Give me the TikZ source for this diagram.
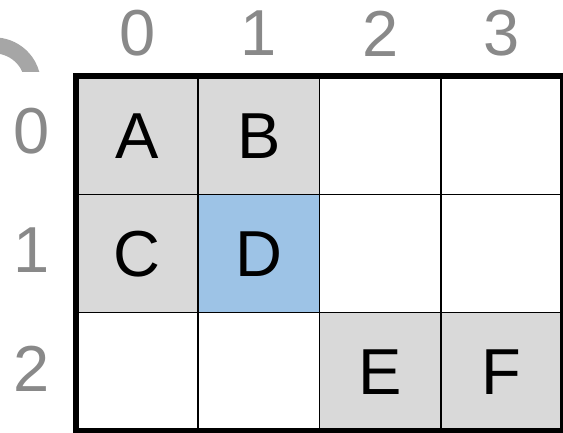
\documentclass[tikz,border=0pt]{standalone}
\usepackage{fontspec}
\setmainfont{Liberation Sans}
\definecolor{cellgray}{HTML}{D9D9D9}
\definecolor{cellblue}{HTML}{9DC3E6}
\definecolor{labelgray}{HTML}{898989}
\definecolor{arcgray}{HTML}{A6A6A6}

\begin{document}
\begin{tikzpicture}[x=1pt, y=-1pt,
    every node/.style={font=\fontsize{65}{78}\selectfont},
    cell/.style={draw=black, line width=1.5pt, minimum width=121.5pt, minimum height=118pt, inner sep=0pt},
    idx/.style={text=labelgray, inner sep=0pt}]
    % 画布范围
    \useasboundingbox (0,0) rectangle (563,433);
    \clip (0,0) rectangle (563,433);

    % 左上角的灰色弧线
    \begin{scope}
        \clip (0,0) rectangle (80,72);
        \draw[arcgray, line width=16pt] (-6,84.4) ++(-120:39) arc[start angle=-120, end angle=0, radius=39];
    \end{scope}

    % 第 0 行
    \node[cell, fill=cellgray] (A) at (137.4,135.7) {A};
    \node[cell, fill=cellgray] (B) at (258.9,135.7) {B};
    \node[cell] (c02) at (380.3,135.7) {};
    \node[cell] (c03) at (501.8,135.7) {};

    % 第 1 行
    \node[cell, fill=cellgray] (C) at (137.4,253.7) {C};
    \node[cell, fill=cellblue] (D) at (258.9,253.7) {D};
    \node[cell] (c12) at (380.3,253.7) {};
    \node[cell] (c13) at (501.8,253.7) {};

    % 第 2 行
    \node[cell] (c20) at (137.4,371.7) {};
    \node[cell] (c21) at (258.9,371.7) {};
    \node[cell, fill=cellgray] (E) at (380.3,371.7) {E};
    \node[cell, fill=cellgray] (F) at (501.8,371.7) {F};

    % 粗外框
    \draw[line width=6.7pt] (A.north west) rectangle (F.south east);

    % 列号
    \node[idx] (col0) at (137.4,33.5) {0};
    \node[idx] (col1) at (258.9,33.5) {1};
    \node[idx] (col2) at (380.3,33.5) {2};
    \node[idx] (col3) at (501.8,33.5) {3};

    % 行号
    \node[idx] (row0) at (31.5,131.5) {0};
    \node[idx] (row1) at (31.5,250) {1};
    \node[idx] (row2) at (31.5,369) {2};
\end{tikzpicture}
\end{document}
